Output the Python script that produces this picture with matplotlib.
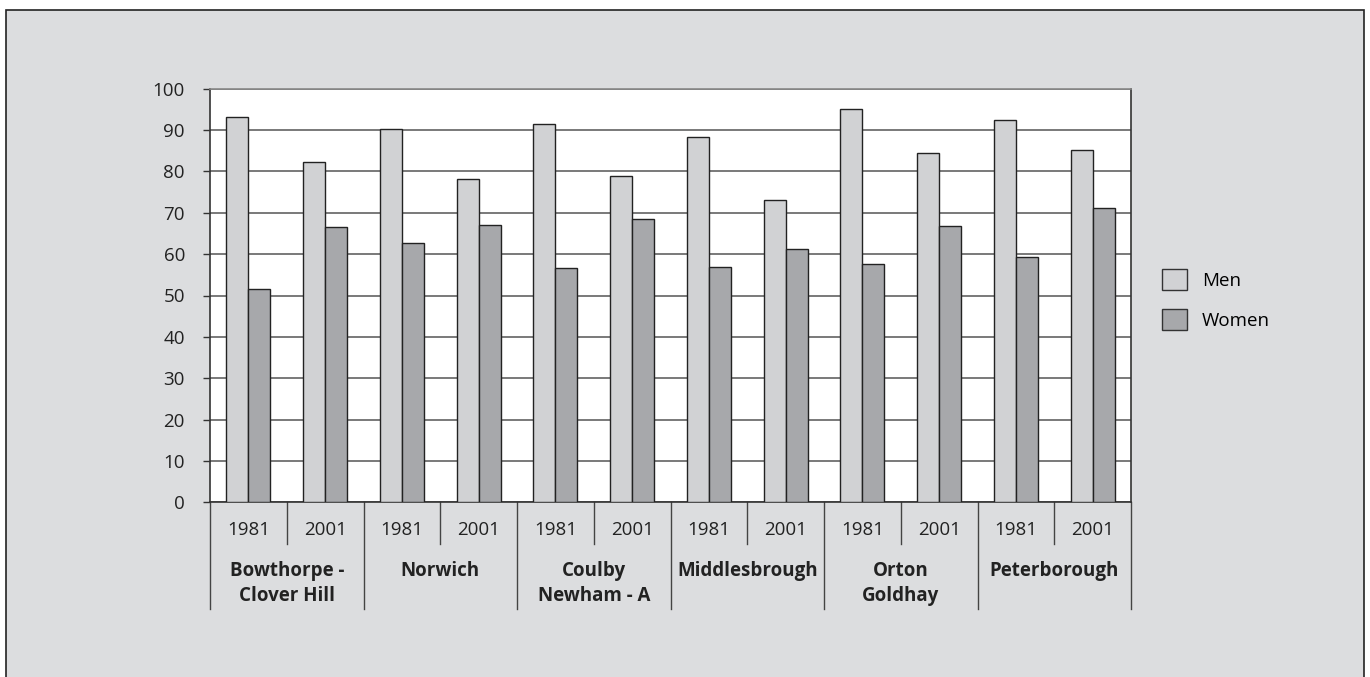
#!/usr/bin/env python3
from matplotlib import pyplot as plt
from matplotlib.patches import Patch, Rectangle
import numpy as np

places = ["Bowthorpe -\nClover Hill", "Norwich", "Coulby\nNewham - A",
          "Middlesbrough", "Orton\nGoldhay", "Peterborough"]
years = ["1981", "2001"]
men = [93.1, 82.3, 90.3, 78.1, 91.4, 79.0, 88.4, 73.2, 95.2, 84.5, 92.4, 85.1]
women = [51.6, 66.5, 62.8, 67.1, 56.7, 68.6, 57.0, 61.3, 57.7, 66.8, 59.2, 71.1]

BG = "#dcdddf"
MEN_C = "#d1d2d4"
WOMEN_C = "#a7a8ab"
W, H = 1370, 677


def main():
    plt.rcParams["font.family"] = ["Open Sans", "DejaVu Sans"]
    plt.rcParams["font.size"] = 13.5

    fig = plt.figure(figsize=(13.7, 6.77), dpi=100, facecolor="white")
    # grey panel with dark frame (bottom edge runs off the picture)
    fig.patches.append(Rectangle((6 / W, -0.02), 1358 / W, 1.02 - 10 / H,
                                 transform=fig.transFigure, facecolor=BG,
                                 edgecolor="#222222", linewidth=1.2, zorder=-5))

    ax = fig.add_axes([210 / W, 1 - 502.3 / H, 921 / W, 413.6 / H])
    ax.set_facecolor("white")

    x = np.arange(len(men))
    w = 0.287
    ax.bar(x - w / 2, men, w, color=MEN_C, edgecolor="#222222", linewidth=1.0, zorder=3)
    ax.bar(x + w / 2, women, w, color=WOMEN_C, edgecolor="#222222", linewidth=1.0, zorder=3)

    ax.set_xlim(-0.5, len(men) - 0.5)
    ax.set_ylim(0, 100)
    ax.set_yticks(np.arange(0, 101, 10))
    ax.yaxis.grid(True, color="#555555", linewidth=1.1, zorder=1)
    ax.set_xticks([])
    ax.tick_params(axis="y", length=5, width=1, color="#333333", pad=13, labelcolor="#222222")

    for side in ["left", "bottom", "right"]:
        ax.spines[side].set_color("#333333")
        ax.spines[side].set_linewidth(1.2)
    ax.spines["top"].set_color("#888888")
    ax.spines["top"].set_linewidth(1.2)

    # category labels below the axis
    tr = ax.get_xaxis_transform()
    for i in range(len(men) + 1):
        bottom = -0.258 if i % 2 == 0 else -0.1
        ax.plot([i - 0.5, i - 0.5], [0, bottom], color="#444444", linewidth=1.0,
                transform=tr, clip_on=False)
    for i in range(len(men)):
        ax.text(i, -0.0675, years[i % 2], ha="center", va="center",
                transform=tr, color="#222222")
    for j, name in enumerate(places):
        for k, line in enumerate(name.split("\n")):
            ax.text(2 * j + 0.5, -0.1655 - 0.0605 * k, line, ha="center", va="center",
                    transform=tr, fontweight="bold", color="#222222")

    handles = [Patch(facecolor=MEN_C, edgecolor="#333333", label="Men"),
               Patch(facecolor=WOMEN_C, edgecolor="#333333", label="Women")]
    fig.legend(handles=handles, loc="upper left",
               bbox_to_anchor=(1162 / W, 1 - 269 / H), frameon=False,
               borderpad=0, borderaxespad=0, handlelength=1.33, handleheight=1.33,
               handletextpad=0.8, labelspacing=1.05)

    fig.savefig("out.png", dpi=100, facecolor="white")


if __name__ == "__main__":
    main()
